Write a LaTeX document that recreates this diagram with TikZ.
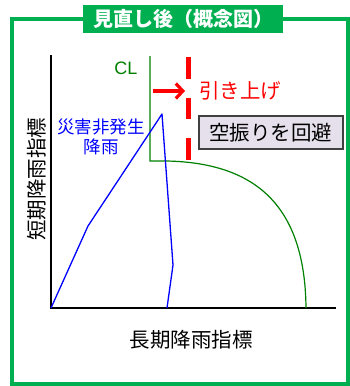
\documentclass[tikz,border=0pt]{standalone}
\usepackage{fontspec}
\setmainfont{Noto Sans CJK JP}
\newfontfamily\latinsans{Liberation Sans}
\usetikzlibrary{arrows.meta}
\definecolor{framegreen}{HTML}{00B050}
\definecolor{clgreen}{HTML}{008000}
\definecolor{boxfill}{HTML}{E6E0EC}
\definecolor{boxdraw}{HTML}{404040}
\tikzset{
  lbl/.style={inner sep=0pt, font=\fontsize{20.5}{23}\selectfont},
  axis/.style={line width=1.2pt, black},
  clline/.style={line width=1.2pt, clgreen},
  rainline/.style={line width=1.3pt, blue},
}
\begin{document}
\begin{tikzpicture}[x=1pt,y=-1pt]
\useasboundingbox (0,0) rectangle (349,386);
% frame
\draw[framegreen, line width=4pt] (12,19) rectangle (348,384);
\node[fill=framegreen, minimum width=200pt, minimum height=28pt, inner sep=0pt, anchor=north west, text=white, font=\fontsize{20}{23}\selectfont\bfseries] (title) at (83,5) {見直し後（概念図）};
% axes
\coordinate (O) at (51,308);
\coordinate (ytop) at (51,55);
\coordinate (xend) at (336,308);
\draw[axis] (ytop) -- (O) -- (xend);
\node[lbl, rotate=90] (ylab) at (37,179) {短期降雨指標};
\node[lbl] (xlab) at (191,340) {長期降雨指標};
% CL
\coordinate (cltop) at (150,56);
\coordinate (clc) at (150,161);
\coordinate (clh) at (167,161);
\coordinate (clend) at (306,308);
\draw[clline] (cltop) -- (clc) -- (clh) .. controls (255,163) and (305,205) .. (clend);
\node[lbl, text=clgreen, font=\latinsans\fontsize{18}{20}\selectfont] (cl) at (126,68) {CL};
% rain line
\coordinate (b1) at (88,226);
\coordinate (b2) at (162,114);
\coordinate (b3) at (173,265);
\coordinate (b4) at (167,308);
\draw[rainline, line join=round] (O) -- (b1) -- (b2) -- (b3) -- (b4);
\node[lbl, text=blue, align=center, font=\fontsize{17.5}{19.5}\selectfont] (rain) at (101,137) {災害非発生\\降雨};
% raised line
\coordinate (rtop) at (188,57);
\coordinate (rbot) at (188,160);
\draw[red, line width=5pt, dash pattern=on 21.5pt off 19pt] (rtop) -- (rbot);
\coordinate (a1) at (153,91);
\coordinate (a2) at (185,91);
\draw[red, line width=3.2pt, -{Straight Barb[length=7pt,width=15pt]}] (a1) -- (a2);
\node[lbl, text=red, anchor=west] (up) at (199,91) {引き上げ};
% box
\node[draw=boxdraw, line width=1.5pt, fill=boxfill, minimum width=144pt, minimum height=33pt, inner sep=0pt, anchor=north west, font=\fontsize{20.5}{23}\selectfont] (box) at (198,115) {空振りを回避};
\end{tikzpicture}
\end{document}
